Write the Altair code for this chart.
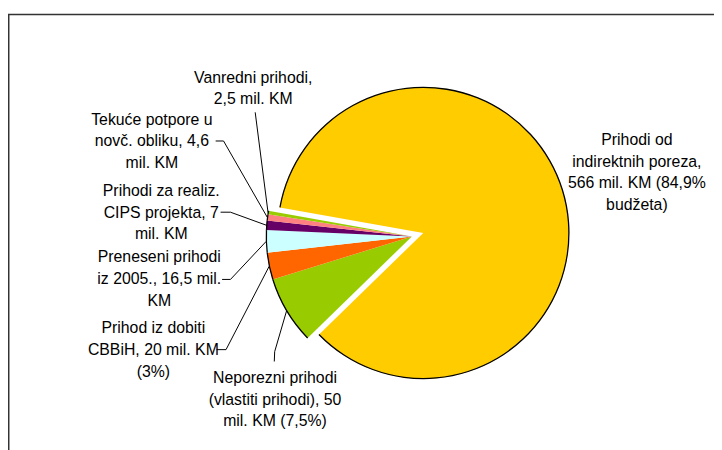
import math
import altair as alt
import pandas as pd

# ---------------- data ----------------
categories = [
    "Prihodi od indirektnih poreza",
    "Neporezni prihodi (vlastiti prihodi)",
    "Prihod iz dobiti CBBiH",
    "Preneseni prihodi iz 2005.",
    "Prihodi za realiz. CIPS projekta",
    "Tekuće potpore u novč. obliku",
    "Vanredni prihodi",
]
values = [566, 50, 20, 16.5, 7, 4.6, 2.5]
labels = [
    "Prihodi od\nindirektnih poreza,\n566 mil. KM (84,9%\nbudžeta)",
    "Neporezni prihodi\n(vlastiti prihodi), 50\nmil. KM (7,5%)",
    "Prihod iz dobiti\nCBBiH, 20 mil. KM\n(3%)",
    "Preneseni prihodi\niz 2005., 16,5 mil.\nKM",
    "Prihodi za realiz.\nCIPS projekta, 7\nmil. KM",
    "Tekuće potpore u\nnovč. obliku, 4,6\nmil. KM",
    "Vanredni prihodi,\n2,5 mil. KM",
]
colors = ["#FFCC00", "#99CC00", "#FF6600", "#CCFFFF", "#660066", "#FF8080", "#99CC00"]

# ---------------- layout (pixels, chart coordinates) ----------------
W, H = 714, 442
CX, CY = 408.5, 228.5        # centre of the small slices
YCX, YCY = 420.0, 225.0      # centre of the exploded big slice
R = 147.5
A0 = math.radians(280.1)     # first slice start angle
label_x = [636, 270, 147, 153, 155, 145.5, 248]
label_y = [136, 376.5, 326.5, 254.5, 187.5, 115.5, 73]
tick_x0 = [0, 269.3, 211, 216.5, 215, 210, 250]
tick_y0 = [0, 355, 343, 272, 204, 132, 103]
tick_x1 = [0, 269.7, 220.5, 225, 225, 218, 250]
tick_y1 = [0, 345, 343, 272, 204, 132, 103]

total = sum(values)
df = pd.DataFrame({
    "name": categories,
    "value": values,
    "idx": list(range(len(values))),
    "label": labels,
    "lx": label_x, "ly": label_y,
    "x0": tick_x0, "y0": tick_y0, "x1": tick_x1, "y1": tick_y1,
})

base = alt.Chart(df).transform_window(
    end="sum(value)", sort=[alt.SortField("idx")], frame=[None, 0]
).transform_calculate(start="datum.end - datum.value")

theta_scale = alt.Scale(domain=[0, total], range=[A0, A0 + 2 * math.pi])
color_scale = alt.Scale(domain=categories, range=colors)


def pie(filt, cx, cy):
    b = base.transform_filter(filt)
    enc = dict(
        theta=alt.Theta("start:Q", scale=theta_scale),
        theta2="end:Q",
        x=alt.value(cx),
        y=alt.value(cy),
    )
    fill = b.mark_arc(radius=R).encode(
        color=alt.Color("name:N", scale=color_scale, legend=None), **enc
    )
    ring = b.mark_arc(radius=R + 0.4, radius2=R - 0.9, color="#000000").encode(**enc)
    return fill, ring


big_fill, big_ring = pie("datum.idx == 0", YCX, YCY)
small_fill, small_ring = pie("datum.idx > 0", CX, CY)

lead = base.transform_filter("datum.idx > 0").transform_calculate(
    mid=f"{A0} + (datum.start + datum.value / 2) / {total} * 2 * PI",
).transform_calculate(
    ax=f"{CX} + {R} * sin(datum.mid)",
    ay=f"{CY} - {R} * cos(datum.mid)",
)
tick = lead.mark_rule(color="#000000", strokeWidth=1).encode(
    x=alt.X("x0:Q", scale=None, axis=None),
    y=alt.Y("y0:Q", scale=None, axis=None),
    x2="x1:Q", y2="y1:Q",
)
diag = lead.mark_rule(color="#000000", strokeWidth=1).encode(
    x=alt.X("x1:Q", scale=None, axis=None),
    y=alt.Y("y1:Q", scale=None, axis=None),
    x2="ax:Q", y2="ay:Q",
)

text = alt.Chart(df).mark_text(
    align="center", baseline="alphabetic", lineBreak="\n",
    font="Liberation Sans", fontSize=16, lineHeight=22, color="#000000",
).encode(
    x=alt.X("lx:Q", scale=None, axis=None),
    y=alt.Y("ly:Q", scale=None, axis=None),
    text="label:N",
)

frame = alt.Chart(pd.DataFrame({"a": [0]})).mark_rect(
    fillOpacity=0, stroke="#333333", strokeWidth=1.5
).encode(
    x=alt.value(0.75), x2=alt.value(W + 40), y=alt.value(4), y2=alt.value(H + 40)
)

chart = alt.layer(
    frame, big_fill, small_fill, big_ring, small_ring, tick, diag, text
).properties(
    width=W, height=H, padding=0, autosize=alt.AutoSizeParams(type="none"),
    background="white",
).configure_view(stroke=None)

chart.save("out.html", embed_options={"renderer": "svg", "actions": False})
